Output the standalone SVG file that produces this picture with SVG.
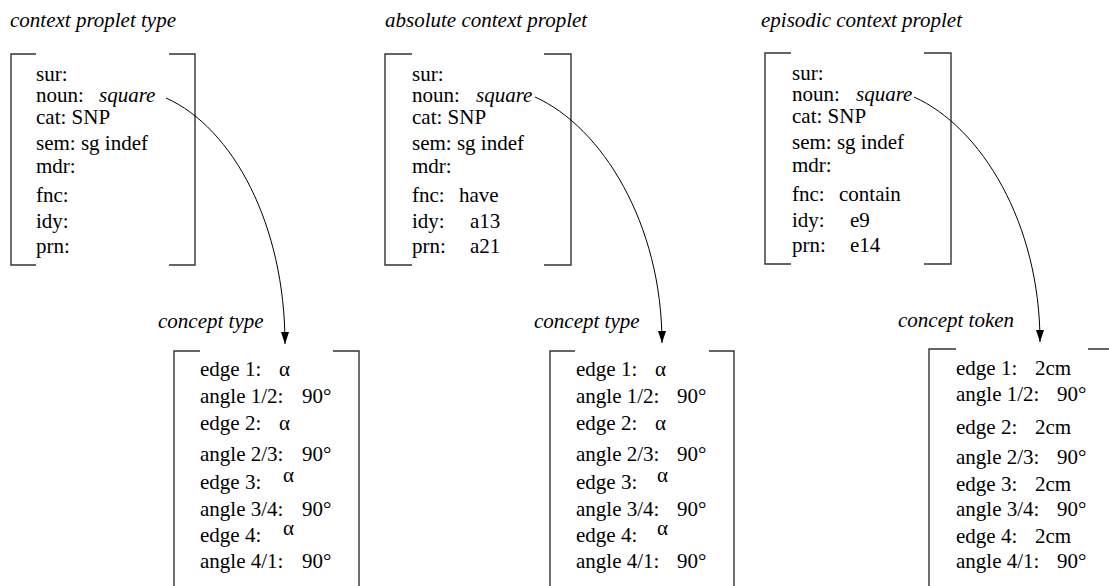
<svg xmlns="http://www.w3.org/2000/svg" width="1109" height="586" viewBox="0 0 1109 586">
  <style>
    text { font-family: "Liberation Serif", "Times New Roman", serif; font-size: 21px; fill: #000; }
    .it { font-style: italic; }
    .br { fill: none; stroke: #333; stroke-width: 1.4; }
    .link { fill: none; stroke: #000; stroke-width: 1; }
  </style>
  <defs>
    <marker id="head" markerUnits="userSpaceOnUse" markerWidth="12" markerHeight="8" refX="12" refY="4" orient="auto">
      <path d="M0,0 L12,4 L0,8 z" fill="#000"/>
    </marker>
  </defs>

  <!-- context proplet type -->
  <g id="context-proplet-type">
    <text class="it" x="10" y="27">context proplet type</text>
    <path class="br" d="M36,54 H11 V265 H36 M169,54 H195 V265 H169"/>
    <text x="36" y="81">sur:</text>
    <text x="36" y="102">noun:</text>
    <text class="it" x="99" y="102">square</text>
    <text x="36" y="124">cat: SNP</text>
    <text x="36" y="150">sem: sg indef</text>
    <text x="36" y="173">mdr:</text>
    <text x="36" y="202">fnc:</text>
    <text x="36" y="228">idy:</text>
    <text x="36" y="253">prn:</text>
  </g>

  <!-- absolute context proplet -->
  <g id="absolute-context-proplet">
    <text class="it" x="385" y="27">absolute context proplet</text>
    <path class="br" d="M412,54 H385 V265 H412 M544,54 H571 V265 H544"/>
    <text x="412" y="81">sur:</text>
    <text x="412" y="102">noun:</text>
    <text class="it" x="476" y="102">square</text>
    <text x="412" y="124">cat: SNP</text>
    <text x="412" y="150">sem: sg indef</text>
    <text x="412" y="173">mdr:</text>
    <text x="412" y="202">fnc:</text>
    <text x="459" y="202">have</text>
    <text x="412" y="228">idy:</text>
    <text x="470" y="228">a13</text>
    <text x="412" y="253">prn:</text>
    <text x="470" y="253">a21</text>
  </g>

  <!-- episodic context proplet -->
  <g id="episodic-context-proplet">
    <text class="it" x="761" y="27">episodic context proplet</text>
    <path class="br" d="M791,53 H765 V264 H791 M924,53 H951 V264 H924"/>
    <text x="792" y="80">sur:</text>
    <text x="792" y="101">noun:</text>
    <text class="it" x="856" y="101">square</text>
    <text x="792" y="123">cat: SNP</text>
    <text x="792" y="149">sem: sg indef</text>
    <text x="792" y="172">mdr:</text>
    <text x="792" y="201">fnc:</text>
    <text x="839" y="201">contain</text>
    <text x="792" y="227">idy:</text>
    <text x="850" y="227">e9</text>
    <text x="792" y="252">prn:</text>
    <text x="850" y="252">e14</text>
  </g>

  <!-- concept type (left) -->
  <g id="concept-type-1">
    <text class="it" x="158" y="328">concept type</text>
    <path class="br" d="M200,351 H174 V590 M333,351 H359 V590"/>
    <text x="200" y="376">edge 1:</text>
    <text x="279" y="376">α</text>
    <text x="200" y="403">angle 1/2:</text>
    <text x="302" y="403">90°</text>
    <text x="200" y="430">edge 2:</text>
    <text x="279" y="430">α</text>
    <text x="200" y="461">angle 2/3:</text>
    <text x="302" y="461">90°</text>
    <text x="200" y="489">edge 3:</text>
    <text x="283" y="482">α</text>
    <text x="200" y="516">angle 3/4:</text>
    <text x="302" y="516">90°</text>
    <text x="200" y="542">edge 4:</text>
    <text x="283" y="535">α</text>
    <text x="200" y="568">angle 4/1:</text>
    <text x="302" y="568">90°</text>
  </g>

  <!-- concept type (middle) -->
  <g id="concept-type-2">
    <text class="it" x="534" y="328">concept type</text>
    <path class="br" d="M575,351 H550 V590 M709,351 H734 V590"/>
    <text x="576" y="376">edge 1:</text>
    <text x="655" y="376">α</text>
    <text x="576" y="403">angle 1/2:</text>
    <text x="677" y="403">90°</text>
    <text x="576" y="430">edge 2:</text>
    <text x="655" y="430">α</text>
    <text x="576" y="461">angle 2/3:</text>
    <text x="677" y="461">90°</text>
    <text x="576" y="489">edge 3:</text>
    <text x="657" y="482">α</text>
    <text x="576" y="516">angle 3/4:</text>
    <text x="677" y="516">90°</text>
    <text x="576" y="542">edge 4:</text>
    <text x="657" y="535">α</text>
    <text x="576" y="568">angle 4/1:</text>
    <text x="677" y="568">90°</text>
  </g>

  <!-- concept token (right) -->
  <g id="concept-token">
    <text class="it" x="898" y="327">concept token</text>
    <path class="br" d="M956,349 H929 V590 M1088,349 H1112"/>
    <text x="956" y="375">edge 1:</text>
    <text x="1035" y="375">2cm</text>
    <text x="956" y="401">angle 1/2:</text>
    <text x="1057" y="401">90°</text>
    <text x="956" y="434">edge 2:</text>
    <text x="1035" y="434">2cm</text>
    <text x="956" y="464">angle 2/3:</text>
    <text x="1057" y="464">90°</text>
    <text x="956" y="491">edge 3:</text>
    <text x="1035" y="491">2cm</text>
    <text x="956" y="516">angle 3/4:</text>
    <text x="1057" y="516">90°</text>
    <text x="956" y="543">edge 4:</text>
    <text x="1035" y="543">2cm</text>
    <text x="956" y="568">angle 4/1:</text>
    <text x="1057" y="568">90°</text>
  </g>

  <!-- links from the noun value to its concept -->
  <g id="connectors">
    <path class="link" marker-end="url(#head)" d="M166,98 C233,128 285,225 285,344"/>
    <path class="link" marker-end="url(#head)" d="M535,97 C602,127 662,224 662,343"/>
    <path class="link" marker-end="url(#head)" d="M914,97 C981,127 1040,223 1040,342"/>
  </g>
</svg>
